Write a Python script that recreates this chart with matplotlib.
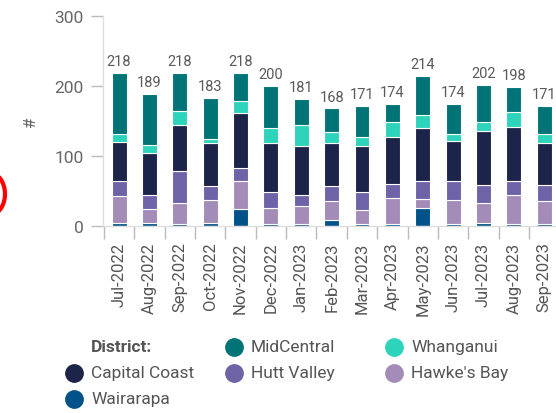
import matplotlib
matplotlib.use("Agg")
import matplotlib.pyplot as plt
from matplotlib.lines import Line2D
from matplotlib.patches import Ellipse
import numpy as np

# Data
months = ['Jul-2022', 'Aug-2022', 'Sep-2022', 'Oct-2022', 'Nov-2022', 'Dec-2022',
          'Jan-2023', 'Feb-2023', 'Mar-2023', 'Apr-2023', 'May-2023', 'Jun-2023',
          'Jul-2023', 'Aug-2023', 'Sep-2023']
wairarapa = [4, 4, 3, 4, 25, 3, 3, 8, 3, 3, 26, 3, 5, 3, 3]
hawkes_bay = [39, 21, 30, 33, 39, 23, 25, 28, 20, 37, 13, 34, 28, 41, 33]
hutt_valley = [21, 19, 46, 20, 19, 22, 16, 21, 26, 20, 26, 27, 26, 20, 23]
capital_coast = [56, 61, 66, 62, 78, 70, 70, 62, 65, 67, 75, 57, 77, 78, 60]
whanganui = [12, 11, 20, 6, 18, 22, 30, 15, 13, 22, 18, 10, 13, 21, 12]
totals = [218, 189, 218, 183, 218, 200, 181, 168, 171, 174, 214, 174, 202, 198, 171]
midcentral = [t - w - h - hv - c - wh for t, w, h, hv, c, wh in
              zip(totals, wairarapa, hawkes_bay, hutt_valley, capital_coast, whanganui)]

series = [
    ('Wairarapa', wairarapa, '#005288'),
    ("Hawke's Bay", hawkes_bay, '#a48cb9'),
    ('Hutt Valley', hutt_valley, '#6f63a8'),
    ('Capital Coast', capital_coast, '#1d2449'),
    ('Whanganui', whanganui, '#2dd4bb'),
    ('MidCentral', midcentral, '#007377'),
]

plt.rcParams['font.family'] = ['Roboto', 'DejaVu Sans']

fig = plt.figure(figsize=(5.56, 4.14), dpi=100)
ax = fig.add_axes([103 / 556, 187 / 414, 464 / 556, 210 / 414])

x = np.arange(len(months))
bottom = np.zeros(len(months))
for name, vals, color in series:
    ax.bar(x, vals, width=0.49, bottom=bottom, color=color,
           edgecolor='white', linewidth=0.8, label=name)
    bottom += np.array(vals)

for xi, t in zip(x, totals):
    ax.text(xi, t + 7, str(t), ha='center', va='bottom', fontsize=10.5, color='#5a5a5a')

ax.set_xlim(-0.53, 14.75)
ax.set_ylim(0, 300)
ax.set_yticks([0, 100, 200, 300])
ax.tick_params(axis='y', length=9, width=1, color='#bbbbbb', labelsize=12.5,
               labelcolor='#666666', pad=5)
ax.set_ylabel('#', fontsize=12, color='#666666', labelpad=12)

ax.set_xticks(x)
ax.set_xticklabels(months, rotation=90, fontsize=12, color='#555555')
ax.tick_params(axis='x', length=0, pad=11)
ax.set_xticks(np.arange(-0.5, len(months), 1), minor=True)
ax.tick_params(axis='x', which='minor', length=9, width=1, color='#bbbbbb')

for side in ['top', 'right']:
    ax.spines[side].set_visible(False)
for side in ['left', 'bottom']:
    ax.spines[side].set_color('#dddddd')
    ax.spines[side].set_linewidth(1)

# legend laid out as in the reference (3 columns, title in the first cell)
W, H = 556, 414
fig.text(91 / W, 1 - 348 / H, 'District:', fontsize=12.5, fontweight='bold',
         color='#555555', va='center', ha='left')
legend_cells = {
    'MidCentral': (234, 348), 'Whanganui': (394, 348),
    'Capital Coast': (74, 374), 'Hutt Valley': (234, 374), "Hawke's Bay": (394, 374),
    'Wairarapa': (74, 400),
}
for name, vals, color in series:
    px, py = legend_cells[name]
    fig.add_artist(Line2D([px / W], [1 - py / H], marker='o', markersize=12.5,
                          color=color, linestyle='', transform=fig.transFigure))
    fig.text((px + 17) / W, 1 - py / H, name, fontsize=12.5, color='#555555',
             va='center', ha='left')

# red arc cut off at the left edge of the reference
fig.add_artist(Ellipse((-10 / W, 1 - 195 / H), 30 / W, 42 / H, fill=False,
                       edgecolor='red', linewidth=3, transform=fig.transFigure))

fig.savefig('out.png', dpi=100)
